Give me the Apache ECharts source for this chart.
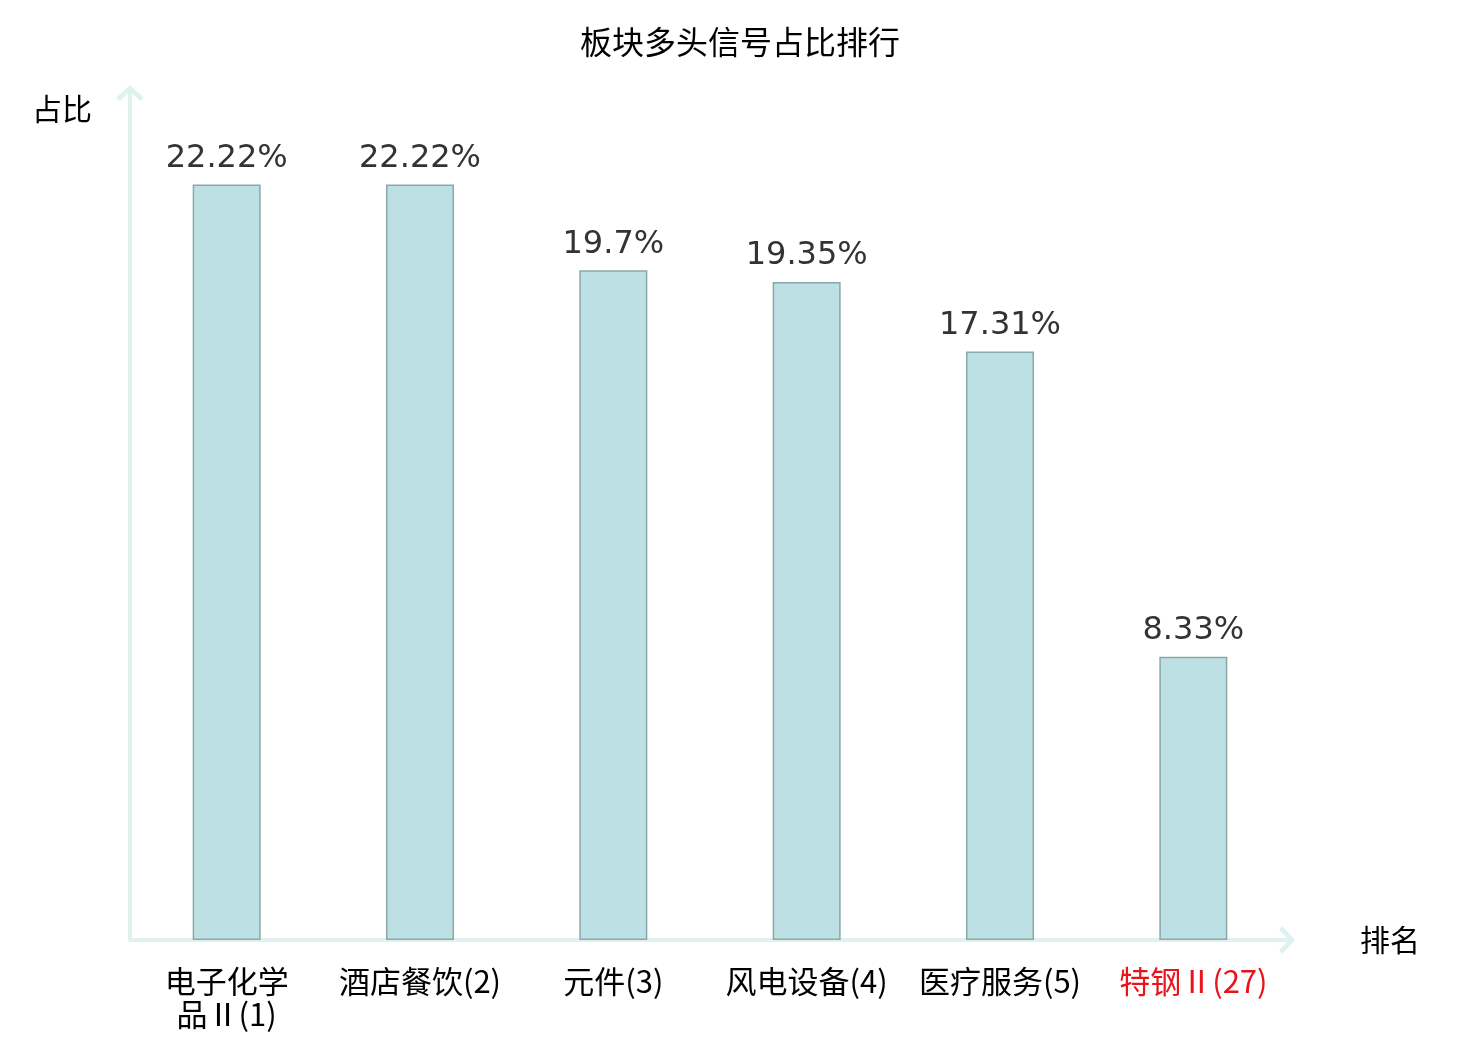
<!DOCTYPE html>
<html>
<head>
<meta charset="utf-8">
<script src="https://cdn.jsdelivr.net/npm/echarts@6/dist/echarts.min.js"></script>
<style>
html,body{margin:0;padding:0;background:#fff;}
#chart{width:1480px;height:1040px;}
</style>
</head>
<body>
<div id="chart"></div>
<script>
var titleText = '板块多头信号占比排行';
var categories = ['电子化学\n品Ⅱ(1)', '酒店餐饮(2)', '元件(3)', '风电设备(4)', '医疗服务(5)', '特钢Ⅱ(27)'];
var values = [22.22, 22.22, 19.7, 19.35, 17.31, 8.33];
var labelColors = ['#000', '#000', '#000', '#000', '#000', '#e8141b'];
var yName = '占比';
var xName = '排名';

var chevron = 'path://M0,11 L12,0 L24,11 L21,14 L12,5.6 L3,14 Z';

var chart = echarts.init(document.getElementById('chart'));
chart.setOption({
  backgroundColor: '#fff',
  animation: false,
  title: {
    text: titleText,
    left: 'center',
    top: 21,
    textStyle: { fontFamily: 'Noto Sans CJK SC', fontSize: 32, fontWeight: 'normal', color: '#000' }
  },
  grid: { left: 130, right: 190, top: 90, bottom: 100, containLabel: false },
  xAxis: {
    type: 'category',
    data: categories,
    name: xName,
    nameGap: 70,
    nameTextStyle: { fontFamily: 'Noto Sans CJK SC', fontSize: 30, color: '#000', verticalAlign: 'middle' },
    axisLine: { show: true, symbol: ['none', chevron], symbolSize: [28, 16], symbolOffset: [0, -3], lineStyle: { color: '#dff2ef', width: 4 } },
    axisTick: { show: false },
    axisLabel: {
      interval: 0,
      margin: 25,
      fontFamily: 'Noto Sans CJK SC',
      fontSize: 31,
      lineHeight: 33,
      color: function (v, i) { return labelColors[i]; }
    }
  },
  yAxis: {
    type: 'value',
    min: 0,
    max: 25,
    name: yName,
    nameLocation: 'end',
    nameGap: -34,
    nameTextStyle: { fontFamily: 'Noto Sans CJK SC', fontSize: 30, color: '#000', align: 'right', padding: [0, 38, 0, 0] },
    axisLine: { show: true, symbol: ['none', chevron], symbolSize: [28, 16], symbolOffset: [0, -3], lineStyle: { color: '#dff2ef', width: 4 } },
    axisTick: { show: false },
    axisLabel: { show: false },
    splitLine: { show: false }
  },
  series: [{
    type: 'bar',
    data: values,
    barWidth: 68,
    itemStyle: { color: '#bce0e3', borderColor: '#8aa8a8', borderWidth: 1.5 },
    label: {
      show: true,
      position: 'top',
      distance: 10,
      fontFamily: 'DejaVu Sans',
      fontSize: 32,
      color: '#333',
      formatter: function (p) { return p.value + '%'; }
    }
  }]
});
</script>
</body>
</html>
